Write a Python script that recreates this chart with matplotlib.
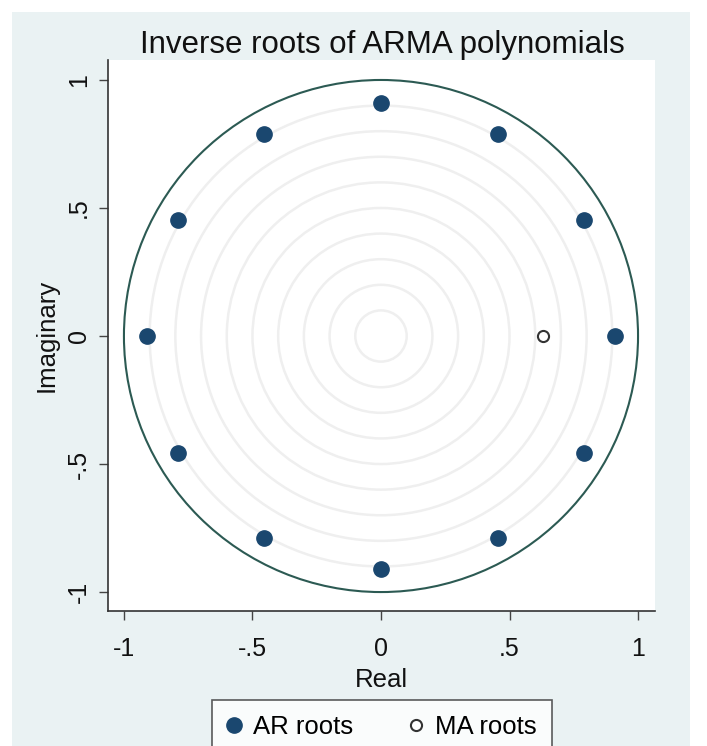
import numpy as np
import matplotlib
matplotlib.use("Agg")
import matplotlib.pyplot as plt
from matplotlib.patches import Circle, Rectangle

plt.rcParams['font.family'] = ['Liberation Sans', 'DejaVu Sans']

# inverse roots
ar_real = [0.91, 0.79, 0.455, 0.0, -0.455, -0.79, -0.91, -0.79, -0.455, 0.0, 0.455, 0.79]
ar_imag = [0.0, 0.455, 0.79, 0.91, 0.79, 0.455, 0.0, -0.455, -0.79, -0.91, -0.79, -0.455]
ma_real = [0.63]
ma_imag = [0.0]

ring_radii = [0.1, 0.2, 0.3, 0.4, 0.5, 0.6, 0.7, 0.8, 0.9]
tick_vals = [-1, -0.5, 0, 0.5, 1]
tick_labels = ["-1", "-.5", "0", ".5", "1"]

W, H = 707, 746
fig = plt.figure(figsize=(W / 100, H / 100), dpi=100, facecolor="white")

# light blue graph region with a thin white border
fig.patches.append(Rectangle((12 / W, 0), (690 - 12) / W, 1 - 12 / H,
                             transform=fig.transFigure, facecolor="#eaf2f3",
                             edgecolor="none", zorder=-10))

left, right, top, bottom = 108, 655, 60, 611
ax = fig.add_axes([left / W, 1 - bottom / H, (right - left) / W, (bottom - top) / H])
ax.set_facecolor("white")

for r in ring_radii:
    ax.add_patch(Circle((0, 0), r, fill=False, edgecolor="#efefef", linewidth=1.8, zorder=1))
ax.add_patch(Circle((0, 0), 1.0, fill=False, edgecolor="#2c5a53", linewidth=1.5, zorder=2))

ax.plot(ar_real, ar_imag, "o", color="#1a476f", markersize=11, linestyle="none",
        label="AR roots", zorder=3)
ax.plot(ma_real, ma_imag, "o", markerfacecolor="white", markeredgecolor="#333333",
        markeredgewidth=1.5, markersize=8, linestyle="none", label="MA roots", zorder=3)

ax.set_xlim(-1.062, 1.066)
ax.set_ylim(-1.074, 1.078)

ax.set_xticks(tick_vals)
ax.set_xticklabels(tick_labels)
ax.set_yticks(tick_vals)
ax.set_yticklabels(tick_labels, rotation=90, va="center")
ax.tick_params(axis="both", direction="out", length=6.5, width=1, color="#444444",
               labelsize=18, labelcolor="#111111")
ax.tick_params(axis="x", pad=12)
ax.tick_params(axis="y", pad=6)

for s in ["top", "right"]:
    ax.spines[s].set_visible(False)
for s in ["left", "bottom"]:
    ax.spines[s].set_color("#333333")
    ax.spines[s].set_linewidth(1.2)

ax.set_xlabel("Real", fontsize=18.5, color="#111111", labelpad=5)
ax.set_ylabel("Imaginary", fontsize=18.5, color="#111111", labelpad=6)
fig.text(382 / W, 1 - 45 / H, "Inverse roots of ARMA polynomials", fontsize=22.5,
         color="#111111", ha="center", va="center")

leg = fig.legend(loc="upper center", bbox_to_anchor=(382 / W, 1 - 700 / H), ncol=2,
                 fontsize=18.5, frameon=True, fancybox=False, borderpad=0.6,
                 borderaxespad=0, handletextpad=0.5, columnspacing=2.2,
                 handlelength=0.5)
leg.get_frame().set_edgecolor("#333333")
leg.get_frame().set_linewidth(1.2)
leg.get_frame().set_facecolor("white")

fig.savefig("out.png", dpi=100, facecolor="white")
